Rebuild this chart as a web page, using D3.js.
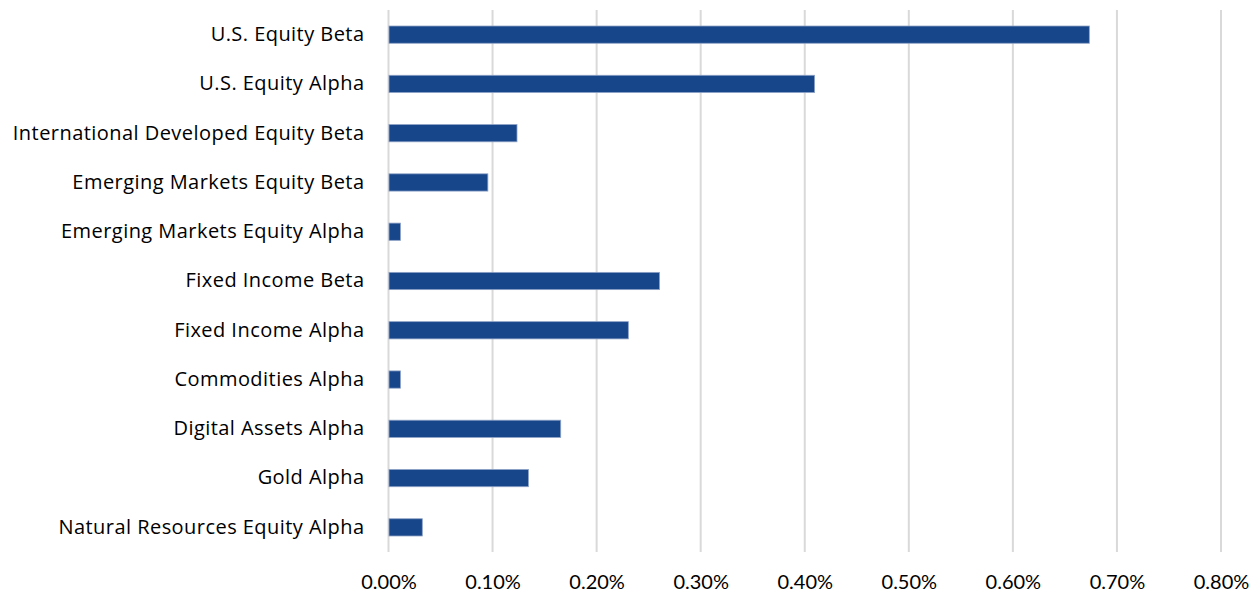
<!DOCTYPE html>
<html>
<head>
<meta charset="utf-8">
<script src="https://cdn.jsdelivr.net/npm/d3@7"></script>
<style>
  html, body { margin: 0; padding: 0; background: #fff; }
  svg text { fill: #000; }
</style>
</head>
<body>
<svg id="chart" width="1251" height="592"></svg>
<script>
// Contribution by component (percent)
const categories = [
  "U.S. Equity Beta",
  "U.S. Equity Alpha",
  "International Developed Equity Beta",
  "Emerging Markets Equity Beta",
  "Emerging Markets Equity Alpha",
  "Fixed Income Beta",
  "Fixed Income Alpha",
  "Commodities Alpha",
  "Digital Assets Alpha",
  "Gold Alpha",
  "Natural Resources Equity Alpha"
];
const values = [0.673, 0.409, 0.123, 0.095, 0.011, 0.260, 0.230, 0.011, 0.165, 0.134, 0.032];
const xTicks = [0, 0.1, 0.2, 0.3, 0.4, 0.5, 0.6, 0.7, 0.8];

const svg = d3.select("#chart");
const margin = { top: 10, right: 30, bottom: 40, left: 388.5 };
const width = 1221 - margin.left;
const height = 552 - margin.top;

const g = svg.append("g").attr("transform", `translate(${margin.left},${margin.top})`);

const x = d3.scaleLinear().domain([0, 0.8]).range([0, width]);
const y = d3.scaleBand().domain(categories).range([0, height]).paddingInner(0.65).paddingOuter(0.325);

// vertical gridlines
g.selectAll("line.grid")
  .data(xTicks)
  .join("line")
  .attr("class", "grid")
  .attr("x1", d => x(d)).attr("x2", d => x(d))
  .attr("y1", 0).attr("y2", height)
  .attr("stroke", "#d9d9d9")
  .attr("stroke-width", 2);

// bars
g.selectAll("rect.bar")
  .data(categories.map((c, i) => ({ c, v: values[i] })))
  .join("rect")
  .attr("class", "bar")
  .attr("x", x(0) + 0.5)
  .attr("y", d => y(d.c))
  .attr("width", d => x(d.v) - x(0))
  .attr("height", y.bandwidth())
  .attr("fill", "#18468b")
  .attr("stroke", "#8da2c6")
  .attr("stroke-width", 0.8);

// x axis labels
const xAxis = d3.axisBottom(x).tickValues(xTicks).tickFormat(d => d.toFixed(2) + "%").tickSize(0).tickPadding(23);
const xa = g.append("g").attr("transform", `translate(0,${height})`).call(xAxis);
xa.select(".domain").remove();
xa.selectAll("text").style("font-size", "20px").style("font-family", "Lato, sans-serif").attr("fill", "#000");

// category labels
const yAxis = d3.axisLeft(y).tickSize(0).tickPadding(24);
const ya = g.append("g").call(yAxis);
ya.select(".domain").remove();
ya.selectAll("text")
  .style("font-size", "20px")
  .style("letter-spacing", "0.45px")
  .style("font-family", "'Open Sans', sans-serif")
  .attr("fill", "#000");
</script>
</body>
</html>
